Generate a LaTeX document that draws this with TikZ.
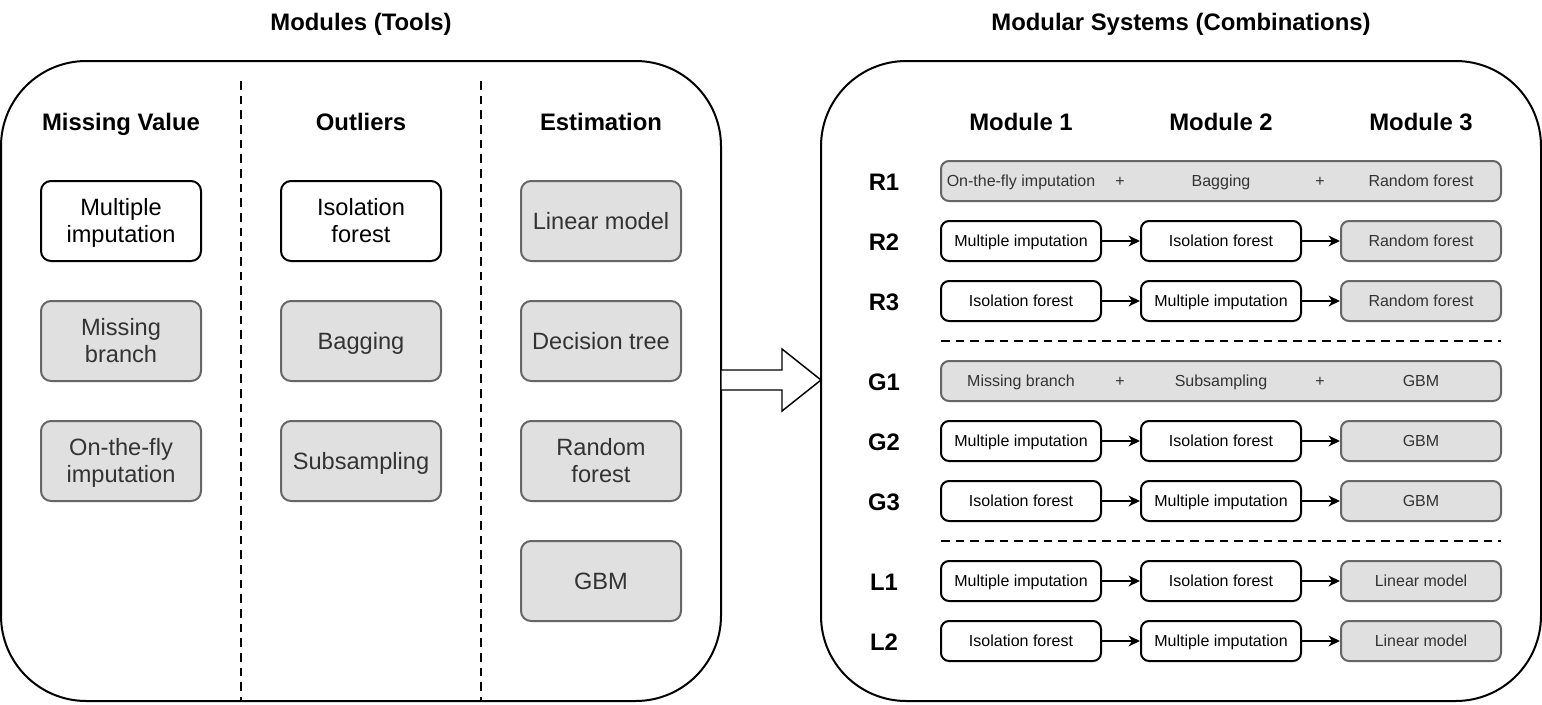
\documentclass[tikz,border=0pt]{standalone}
\usepackage{fontspec}
\setmainfont{Liberation Sans}
\usetikzlibrary{arrows.meta}
\definecolor{gfill}{HTML}{E0E0E0}
\definecolor{gline}{HTML}{666666}
\definecolor{gtext}{HTML}{333333}
% struts that centre the cap height of each line
\newcommand\lst{\rule[-3.9pt]{0pt}{20.25pt}}
\newcommand\rst{\rule[-4pt]{0pt}{16.6pt}}
\begin{document}
\begin{tikzpicture}[x=0.75pt,y=-0.75pt,
  bigbox/.style={draw, line width=1.5pt, rounded corners=64pt, minimum width=540pt, minimum height=480pt, inner sep=0pt},
  hdr/.style={font=\fontsize{17.9pt}{21pt}\selectfont\bfseries, inner sep=0pt, anchor=base},
  rlab/.style={font=\fontsize{17.9pt}{21pt}\selectfont\bfseries, inner sep=0pt},
  lbox/.style={draw, line width=1.5pt, rounded corners=7.5pt, minimum width=120pt, minimum height=60pt, align=center, inner sep=0pt, font=\fontsize{17.7pt}{20.25pt}\selectfont},
  lw/.style={lbox, fill=white},
  lg/.style={lbox, fill=gfill, draw=gline, text=gtext},
  rbox/.style={draw, line width=1.5pt, rounded corners=6pt, minimum width=120pt, minimum height=30pt, inner sep=0pt, font=\fontsize{12pt}{14pt}\selectfont},
  rw/.style={rbox, fill=white},
  rg/.style={rbox, fill=gfill, draw=gline, text=gtext},
  rc/.style={rg, minimum width=420pt},
  rt/.style={inner sep=0pt, text=gtext, font=\fontsize{12pt}{14pt}\selectfont},
  dsh/.style={line width=1.1pt, dash pattern=on 6.5pt off 4.5pt},
  arr/.style={line width=1.5pt, -{Stealth[length=8.5pt,width=8pt,inset=2.5pt]}}
]
\useasboundingbox (0,0) rectangle (1542,704);
% titles
\node[hdr] (t1) at (361,30) {Modules (Tools)};
\node[hdr] (t2) at (1181,30) {Modular Systems (Combinations)};
% big boxes
\node[bigbox] (L) at (361,381) {};
\node[bigbox] (R) at (1181,381) {};
% dashed separators left
\coordinate (d1a) at (241,81); \coordinate (d1b) at (241,701);
\coordinate (d2a) at (481,81); \coordinate (d2b) at (481,701);
\draw[dsh] (d1a) -- (d1b);
\draw[dsh] (d2a) -- (d2b);
% left headers
\node[hdr] (h1) at (121,130) {Missing Value};
\node[hdr] (h2) at (361,130) {Outliers};
\node[hdr] (h3) at (601,130) {Estimation};
% left boxes
\node[lw] (mi) at (121,221) {\lst Multiple\\\lst imputation};
\node[lg] (mb) at (121,341) {\lst Missing\\\lst branch};
\node[lg] (of) at (121,461) {\lst On-the-fly\\\lst imputation};
\node[lw] (if) at (361,221) {\lst Isolation\\\lst forest};
\node[lg] (bg) at (361,341) {\lst Bagging};
\node[lg] (ss) at (361,461) {\lst Subsampling};
\node[lg] (lm) at (601,221) {\lst Linear model};
\node[lg] (dt) at (601,341) {\lst Decision tree};
\node[lg] (rf) at (601,461) {\lst Random\\\lst forest};
\node[lg] (gbm) at (601,581) {\lst GBM};
% big arrow
\draw[line width=1.1pt, fill=white] (721,370) -- (782,370) -- (782,349) -- (821,380) -- (782,411) -- (782,390) -- (721,390) -- cycle;
% right headers
\node[hdr] (m1) at (1021,130) {Module 1};
\node[hdr] (m2) at (1221,130) {Module 2};
\node[hdr] (m3) at (1421,130) {Module 3};
% row labels
\foreach \n/\y in {R1/182,R2/242,R3/302,G1/382,G2/442,G3/502,L1/582,L2/642}
  \node[rlab] (lab\n) at (884,\y) {\n};
% R1
\node[rc] (r1) at (1221,181) {};
\node[rt] (r1a) at (1021,181) {\rst On-the-fly imputation};
\node[rt] (r1p) at (1120,181) {\rst +};
\node[rt] (r1b) at (1221,181) {\rst Bagging};
\node[rt] (r1q) at (1320,181) {\rst +};
\node[rt] (r1c) at (1421,181) {\rst Random forest};
% R2
\node[rw] (r2a) at (1021,241) {\rst Multiple imputation};
\node[rw] (r2b) at (1221,241) {\rst Isolation forest};
\node[rg] (r2c) at (1421,241) {\rst Random forest};
\draw[arr] (r2a) -- (r2b); \draw[arr] (r2b) -- (r2c);
% R3
\node[rw] (r3a) at (1021,301) {\rst Isolation forest};
\node[rw] (r3b) at (1221,301) {\rst Multiple imputation};
\node[rg] (r3c) at (1421,301) {\rst Random forest};
\draw[arr] (r3a) -- (r3b); \draw[arr] (r3b) -- (r3c);
% separator
\coordinate (s1a) at (941,341); \coordinate (s1b) at (1501,341);
\draw[dsh] (s1a) -- (s1b);
% G1
\node[rc] (g1) at (1221,381) {};
\node[rt] (g1a) at (1021,381) {\rst Missing branch};
\node[rt] (g1p) at (1120,381) {\rst +};
\node[rt] (g1b) at (1221,381) {\rst Subsampling};
\node[rt] (g1q) at (1320,381) {\rst +};
\node[rt] (g1c) at (1421,381) {\rst GBM};
% G2
\node[rw] (g2a) at (1021,441) {\rst Multiple imputation};
\node[rw] (g2b) at (1221,441) {\rst Isolation forest};
\node[rg] (g2c) at (1421,441) {\rst GBM};
\draw[arr] (g2a) -- (g2b); \draw[arr] (g2b) -- (g2c);
% G3
\node[rw] (g3a) at (1021,501) {\rst Isolation forest};
\node[rw] (g3b) at (1221,501) {\rst Multiple imputation};
\node[rg] (g3c) at (1421,501) {\rst GBM};
\draw[arr] (g3a) -- (g3b); \draw[arr] (g3b) -- (g3c);
% separator
\coordinate (s2a) at (941,541); \coordinate (s2b) at (1501,541);
\draw[dsh] (s2a) -- (s2b);
% L1
\node[rw] (l1a) at (1021,581) {\rst Multiple imputation};
\node[rw] (l1b) at (1221,581) {\rst Isolation forest};
\node[rg] (l1c) at (1421,581) {\rst Linear model};
\draw[arr] (l1a) -- (l1b); \draw[arr] (l1b) -- (l1c);
% L2
\node[rw] (l2a) at (1021,641) {\rst Isolation forest};
\node[rw] (l2b) at (1221,641) {\rst Multiple imputation};
\node[rg] (l2c) at (1421,641) {\rst Linear model};
\draw[arr] (l2a) -- (l2b); \draw[arr] (l2b) -- (l2c);
\end{tikzpicture}
\end{document}
